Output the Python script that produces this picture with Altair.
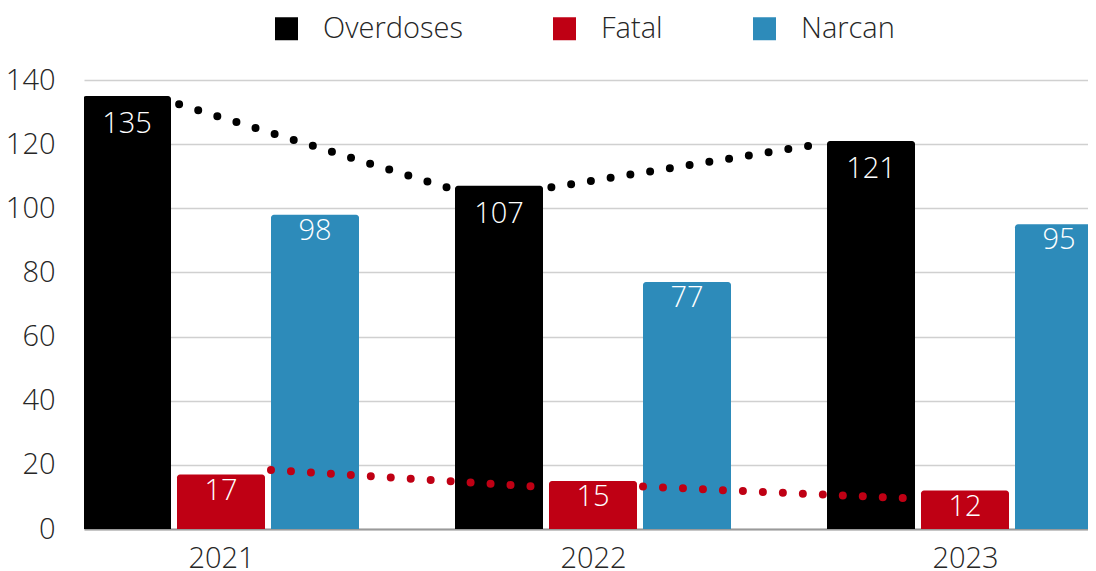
import altair as alt
import pandas as pd

# ---- data ----
YEARS = ["2021", "2022", "2023"]
SERIES = ["Overdoses", "Fatal", "Narcan"]
OVERDOSES = [135, 107, 121]
FATAL = [17, 15, 12]
NARCAN = [98, 77, 95]
COLORS = ["#000000", "#BF0014", "#2D8BBA"]

# dotted connectors between consecutive years: (value at start, value at end)
OVERDOSE_LINKS = [(133.2, 105.7), (106.1, 120.4)]
FATAL_LINKS = [(18.5, 13.0), (13.3, 9.4)]

# ---- layout constants (category units: 1 = one year slot) ----
WIDTH, HEIGHT = 1004, 449
STEP_PX = 372.0
OFFSETS = {"Overdoses": -94 / STEP_PX, "Fatal": 0.0, "Narcan": 94 / STEP_PX}
HALF_BAR = 44 / STEP_PX
X_MIN = -137 / STEP_PX
X_MAX = X_MIN + WIDTH / STEP_PX

values = {"Overdoses": OVERDOSES, "Fatal": FATAL, "Narcan": NARCAN}
rows = []
for s in SERIES:
    for i, y in enumerate(YEARS):
        pos = i + OFFSETS[s]
        rows.append({"year": y, "series": s, "value": values[s][i], "base": 0,
                     "x0": pos - HALF_BAR, "x1": pos + HALF_BAR, "xc": pos})
bars = pd.DataFrame(rows)


def links(series, pairs):
    out = []
    for k, (a, b) in enumerate(pairs):
        out.append({"seg": k, "x": k + OFFSETS[series] + HALF_BAR, "v": a})
        out.append({"seg": k, "x": k + 1 + OFFSETS[series] - HALF_BAR, "v": b})
    return pd.DataFrame(out)


od_links = links("Overdoses", OVERDOSE_LINKS)
fa_links = links("Fatal", FATAL_LINKS)

FONT = "Open Sans"
FS = 29
TXT = "#262626"

label_expr = "[" + ",".join("'%s'" % y for y in YEARS) + "][datum.value]"

xscale = alt.Scale(domain=[X_MIN, X_MAX], nice=False, zero=False, padding=0)
yscale = alt.Scale(domain=[0, 140], nice=False, padding=0)

x_axis = alt.Axis(values=[0, 1, 2], labelExpr=label_expr, title=None, grid=False,
                  ticks=False, tickSize=0, domain=True, domainColor="#9a9a9a",
                  domainWidth=2, labelFont=FONT, labelFontSize=FS, labelFontWeight=300,
                  labelColor=TXT, labelPadding=15)
y_axis = alt.Axis(values=[0, 20, 40, 60, 80, 100, 120, 140], title=None, grid=True,
                  gridColor="#d0d0d0", gridWidth=1.5, ticks=False, tickSize=0,
                  domain=False, labelFont=FONT, labelFontSize=FS, labelFontWeight=300,
                  labelColor=TXT, labelPadding=29)

bar_layer = alt.Chart(bars).mark_bar(
    cornerRadiusTopLeft=3, cornerRadiusTopRight=3, clip=True
).encode(
    x=alt.X("x0:Q", scale=xscale, axis=x_axis),
    x2="x1:Q",
    y=alt.Y("value:Q", scale=yscale, axis=y_axis),
    y2="base:Q",
    color=alt.Color("series:N", scale=alt.Scale(domain=SERIES, range=COLORS),
                    legend=alt.Legend(title=None, orient="none", legendX=188, legendY=-66,
                                      direction="horizontal", columns=3,
                                      symbolType="square", symbolSize=529,
                                      symbolStrokeWidth=0, symbolOpacity=1,
                                      labelFont=FONT, labelFontSize=FS,
                                      labelFontWeight=300, labelColor=TXT,
                                      labelOffset=22, columnPadding=87, padding=0)),
)

od_line = alt.Chart(od_links).mark_line(
    color="#000000", strokeWidth=8, strokeCap="round", strokeDash=[0, 20],
    strokeDashOffset=11.5
).encode(x=alt.X("x:Q", scale=xscale), y=alt.Y("v:Q", scale=yscale), detail="seg:N")

fa_line = alt.Chart(fa_links).mark_line(
    color=COLORS[1], strokeWidth=8, strokeCap="round", strokeDash=[0, 20],
    strokeDashOffset=14
).encode(x=alt.X("x:Q", scale=xscale), y=alt.Y("v:Q", scale=yscale), detail="seg:N")

LABEL_DY = {"Overdoses": 28, "Fatal": 16.5, "Narcan": 16}
text_layers = []
for s in SERIES:
    text_layers.append(
        alt.Chart(bars).transform_filter(alt.datum.series == s).mark_text(
            font=FONT, fontSize=FS, fontWeight=300, color="#ffffff",
            baseline="middle", align="center", dy=LABEL_DY[s], clip=True
        ).encode(x=alt.X("xc:Q", scale=xscale), y=alt.Y("value:Q", scale=yscale),
                 text="value:Q")
    )

chart = alt.layer(bar_layer, od_line, fa_line, *text_layers).properties(
    width=WIDTH, height=HEIGHT,
    autosize=alt.AutoSizeParams(type="none"),
    padding={"left": 76, "top": 72, "right": 0, "bottom": 40},
).configure_view(stroke=None)

chart.save("out.html", embed_options={"renderer": "svg", "actions": False})
